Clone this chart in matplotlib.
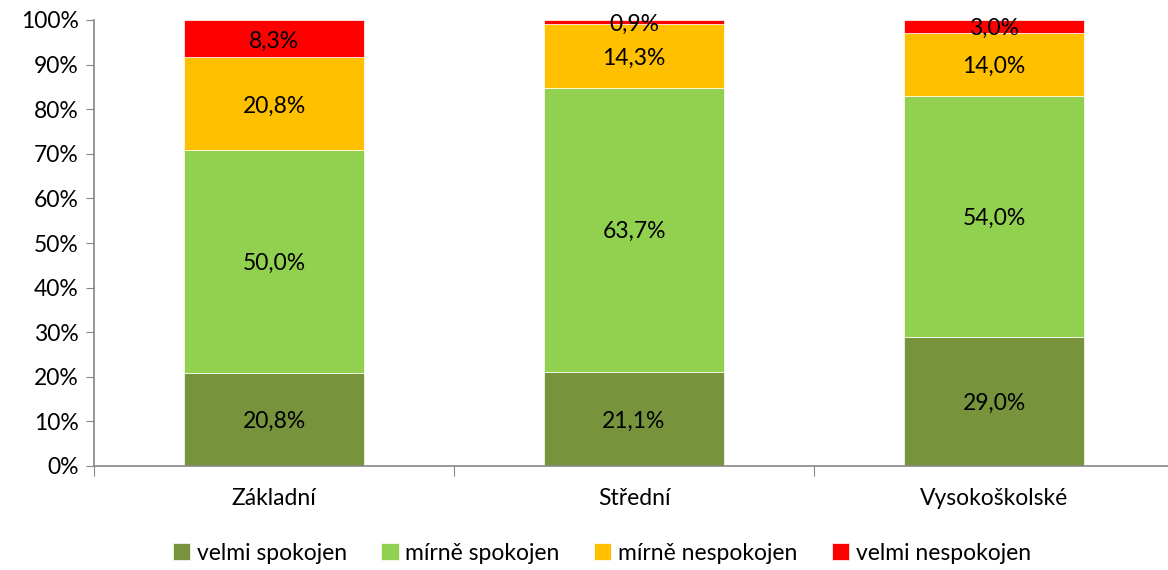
import matplotlib.pyplot as plt
import numpy as np
from matplotlib.ticker import MultipleLocator, FuncFormatter

plt.rcParams['font.family'] = ['Lato', 'DejaVu Sans']

categories = ['Základní', 'Střední', 'Vysokoškolské']
series = ['velmi spokojen', 'mírně spokojen', 'mírně nespokojen', 'velmi nespokojen']
velmi_spokojen = [20.8, 21.1, 29.0]
mirne_spokojen = [50.0, 63.7, 54.0]
mirne_nespokojen = [20.8, 14.3, 14.0]
velmi_nespokojen = [8.3, 0.9, 3.0]
colors = ['#77933C', '#92D050', '#FFC000', '#FF0000']

values = [velmi_spokojen, mirne_spokojen, mirne_nespokojen, velmi_nespokojen]
fs = 16.5

fig = plt.figure(figsize=(11.68, 5.7), dpi=100)
ax = fig.add_axes([94 / 1168, 1 - 466 / 570, 1080 / 1168, 446 / 570])

x = np.arange(len(categories))
bottom = np.zeros(len(categories))
for name, vals, c in zip(series, values, colors):
    vals = np.array(vals)
    ax.bar(x, vals, 0.5, bottom=bottom, color=c, label=name,
           edgecolor='white', linewidth=0.5)
    for xi, v, b in zip(x, vals, bottom):
        ax.text(xi, b + v / 2, ('%.1f%%' % v).replace('.', ','),
                ha='center', va='center_baseline', fontsize=fs, color='black')
    bottom += vals

ax.set_xlim(-0.5, 2.5)
ax.set_ylim(0, 100)
ax.yaxis.set_major_locator(MultipleLocator(10))
ax.yaxis.set_major_formatter(FuncFormatter(lambda v, p: '%d%%' % v))
ax.set_xticks([-0.5, 0.5, 1.5, 2.5])
ax.set_xticklabels([])
ax.set_xticks(x, minor=True)
ax.set_xticklabels(categories, minor=True)
ax.tick_params(axis='x', which='minor', length=0, pad=16, labelsize=fs)
ax.tick_params(axis='x', which='major', direction='out', length=7, color='#868686')
ax.tick_params(axis='y', direction='out', length=6, color='#868686', labelsize=fs, pad=5)

for s in ['top', 'right']:
    ax.spines[s].set_visible(False)
for s in ['left', 'bottom']:
    ax.spines[s].set_color('#868686')
    ax.spines[s].set_linewidth(1.2)

fig.legend(loc='center', bbox_to_anchor=(602 / 1168, 1 - 553 / 570), ncol=4,
           frameon=False, fontsize=fs, handlelength=0.75, handleheight=0.75,
           handletextpad=0.3, columnspacing=1.5)

fig.savefig('out.png', dpi=100)
